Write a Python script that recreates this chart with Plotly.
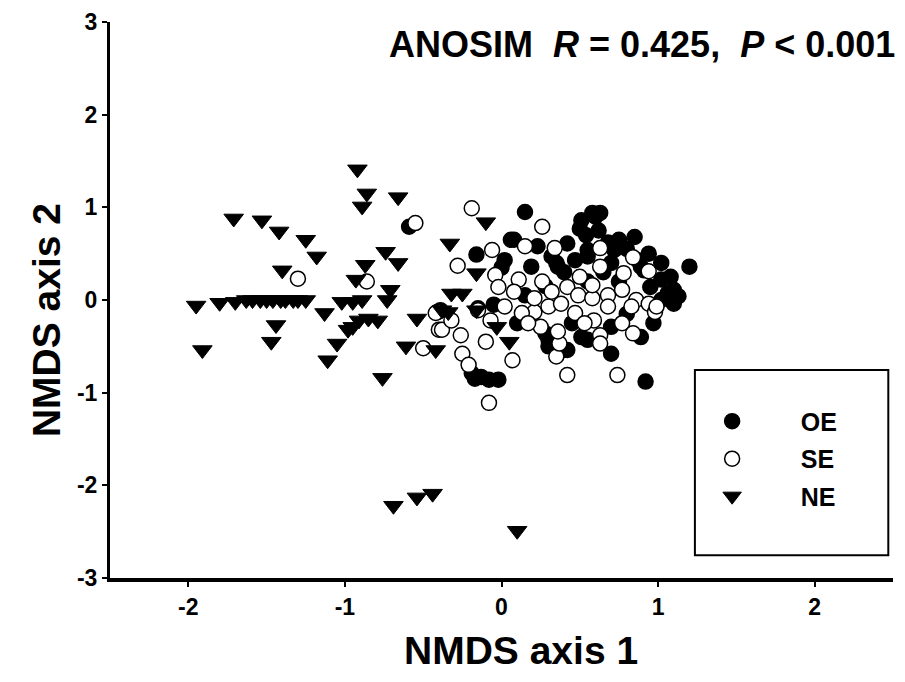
import plotly.graph_objects as go

# ---- data (NMDS scores) ----
oe_x = [0.15, 0.58, 0.60, 0.51, 0.63, 0.50, 0.54, 0.85, 0.75, 0.94, 1.02, 1.20, 1.08, 1.10, 1.13, 1.02,
        0.72, 0.42, 0.91, 0.87, 0.55, 0.70, 0.08, -0.16, 0.06, 0.23, 0.32, 0.36, 0.02, 0.19, 0.47, 0.55,
        0.89, 1.02, 1.06, 0.95, -0.15, -0.39, -0.13, -0.02, -0.08, -0.19, 0.30, 0.40, 0.51, 0.70, 0.92,
        0.89, 0.97, 0.28, 0.70, -0.59, -0.17, 0.32, 0.30, 0.55, 0.42, 1.10, 0.40, 0.28, 0.55, 0.15, 0.10,
        0.45, 0.00, -0.05, 0.75, 0.80, 0.65, 0.35, 0.62, 0.80, 0.68]
oe_y = [0.95, 0.94, 0.90, 0.86, 0.94, 0.77, 0.70, 0.68, 0.65, 0.50, 0.40, 0.36, 0.25, 0.11, 0.04, 0.00,
        0.54, 0.61, 0.32, 0.43, 0.47, 0.40, 0.65, 0.49, 0.65, 0.58, 0.47, 0.36, 0.43, 0.36, 0.43, 0.54,
        0.36, 0.22, 0.07, 0.14, -0.09, -0.11, -0.83, -0.86, -0.86, -0.79, -0.43, -0.54, -0.40, -0.58, -0.88,
        -0.40, -0.25, -0.36, -0.29, 0.79, -0.85, -0.40, -0.50, -0.43, -0.54, -0.04, 0.30, 0.15, 0.20, 0.05, -0.25,
        -0.25, 0.35, -0.05, 0.20, -0.15, 0.30, 0.40, 0.75, 0.55, 0.62]

se_x = [-1.30, -0.86, -0.55, -0.41, -0.40, -0.19, 0.26, -0.06, 0.15, 0.34, 0.63, 0.84, 0.63, -0.28, -0.04,
        0.11, 0.26, 0.50, 0.78, 0.94, -0.02, 0.08, 0.42, 0.49, 0.58, 0.68, 0.77, 0.86, 0.94, 0.98, 0.21,
        0.13, 0.30, 0.38, 0.47, 0.02, -0.07, -0.15, -0.38, -0.26, -0.10, -0.50, -0.25, -0.21, 0.07, 0.35,
        0.37, 0.63, 0.63, 0.77, 0.84, 0.42, 0.74, -0.08, 0.59, 0.25, 0.36, 0.53, 0.17, -0.32, -0.42, 0.68,
        0.83, 0.58, 0.32, 0.21, 0.99]
se_y = [0.23, 0.20, 0.83, -0.13, -0.32, 0.99, 0.79, 0.54, 0.58, 0.56, 0.56, 0.46, 0.36, 0.37, 0.27,
        0.22, 0.20, 0.25, 0.29, 0.31, 0.14, 0.09, 0.14, 0.05, 0.02, 0.05, 0.11, 0.00, -0.04, -0.13, -0.13,
        -0.14, -0.07, -0.04, -0.14, -0.07, -0.22, -0.11, -0.32, -0.38, -0.45, -0.52, -0.58, -0.70, -0.65, -0.61,
        -0.47, -0.38, -0.47, -0.25, -0.36, -0.81, -0.81, -1.11, -0.22, -0.29, -0.34, -0.25, -0.25, -0.22, -0.14, -0.07,
        -0.07, 0.16, 0.09, 0.02, -0.07]

ne_x = [-1.71, -1.53, -1.42, -1.25, -1.18, -1.40, -0.92, -0.86, -0.89, -0.66, -0.74, -0.66, -0.87, -0.93,
        -0.71, -0.73, -1.95, -1.80, -1.70, -1.63, -1.59, -1.54, -1.50, -1.46, -1.41, -1.38, -1.33, -1.30,
        -1.25, -1.44, -1.47, -1.91, -1.13, -1.05, -1.11, -0.95, -0.91, -0.85, -0.98, -0.79, -1.02, -0.95,
        -0.89, -0.54, -0.61, -0.42, -0.76, -0.10, -0.33, -0.16, -0.25, -0.32, -0.34, -0.38, -0.16, -0.03,
        0.05, -0.69, -0.54, -0.44, 0.10]
ne_y = [0.88, 0.86, 0.74, 0.65, 0.47, 0.32, 1.41, 1.15, 1.01, 1.11, 0.52, 0.40, 0.38, 0.22,
        0.11, 0.00, -0.06, -0.03, -0.02, 0.00, 0.00, 0.00, 0.00, 0.00, 0.00, 0.00, 0.00, 0.00,
        0.00, -0.27, -0.45, -0.54, -0.14, -0.47, -0.65, -0.29, -0.22, -0.20, -0.32, -0.22, -0.02, -0.02,
        0.00, -0.20, -0.50, -0.54, -0.84, 0.84, 0.61, 0.29, 0.07, 0.07, -0.13, -0.11, -0.11, -0.29,
        -0.45, -2.22, -2.13, -2.09, -2.49]

groups = ["OE", "SE", "NE"]
x_ticks = [-2, -1, 0, 1, 2]
y_ticks = [-3, -2, -1, 0, 1, 2, 3]
x_title = "NMDS axis 1"
y_title = "NMDS axis 2"

FONT = "Arial, Liberation Sans, sans-serif"
NB = "\u00a0" * 7

fig = go.Figure()
fig.add_trace(go.Scatter(x=oe_x, y=oe_y, mode="markers", name=NB + "<b>" + groups[0] + "</b>",
                         legendgroup="a",
                         marker=dict(symbol="circle", size=15, color="black",
                                     line=dict(color="black", width=1.5))))
fig.add_trace(go.Scatter(x=se_x, y=se_y, mode="markers", name=NB + "<b>" + groups[1] + "</b>",
                         legendgroup="b",
                         marker=dict(symbol="circle", size=15, color="white",
                                     line=dict(color="black", width=1.5))))
fig.add_trace(go.Scatter(x=ne_x, y=ne_y, mode="markers", name=NB + "<b>" + groups[2] + "</b>",
                         legendgroup="c",
                         marker=dict(symbol="triangle-down", size=17, color="black",
                                     line=dict(color="black", width=1))))

fig.update_layout(
    width=905, height=682,
    margin=dict(l=102, r=20, t=14, b=112),
    paper_bgcolor="white", plot_bgcolor="white",
    font=dict(family=FONT, color="black"),
    showlegend=True,
    legend=dict(x=0.769, y=0.323, xanchor="left", yanchor="top",
                bgcolor="rgba(0,0,0,0)", borderwidth=0,
                font=dict(size=25, family=FONT, color="black"),
                itemsizing="trace", tracegroupgap=2),
    shapes=[dict(type="rect", xref="paper", yref="paper", x0=0.747, x1=0.994, y0=0.041, y1=0.374,
                 line=dict(color="black", width=2), fillcolor="white", layer="below")],
    annotations=[
        dict(xref="paper", yref="paper", x=1.0, y=0.959, xanchor="right", yanchor="middle",
             showarrow=False, xshift=4,
             text="<b>ANOSIM  <i>R</i> = 0.425,  <i>P</i> &lt; 0.001</b>",
             font=dict(size=36, family=FONT, color="black")),
        dict(xref="paper", yref="paper", x=0.525, y=-0.1295, xanchor="center", yanchor="middle",
             showarrow=False, text="<b>" + x_title + "</b>",
             font=dict(size=39, family=FONT, color="black")),
        dict(xref="paper", yref="paper", x=-0.0817, y=0.464, xanchor="center", yanchor="middle",
             showarrow=False, textangle=-90, text="<b>" + y_title + "</b>",
             font=dict(size=39, family=FONT, color="black")),
    ],
)
fig.update_xaxes(range=[-2.5, 2.5], tickvals=x_ticks, ticktext=["<b>%d</b>" % v for v in x_ticks],
                 showgrid=False, zeroline=False, showline=True, linecolor="black", linewidth=4,
                 ticks="outside", ticklen=5, tickwidth=2, tickcolor="black", automargin=False,
                 tickfont=dict(size=23, family=FONT, color="black"))
fig.update_yaxes(range=[-3, 3], tickvals=y_ticks, ticktext=["<b>%d</b>" % v for v in y_ticks],
                 showgrid=False, zeroline=False, showline=True, linecolor="black", linewidth=3,
                 ticks="outside", ticklen=5, tickwidth=2, tickcolor="black", automargin=False,
                 tickfont=dict(size=23, family=FONT, color="black"))

fig.write_html("out.html")
